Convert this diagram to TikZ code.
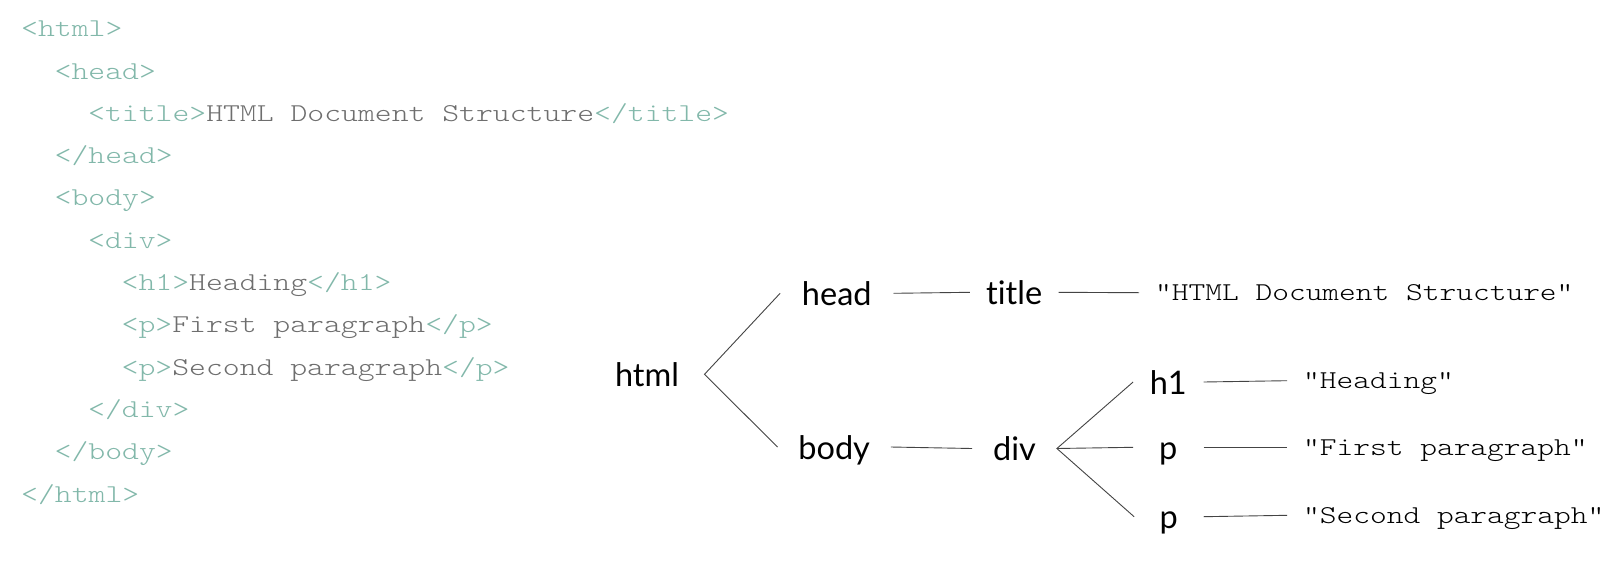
\documentclass[tikz,border=0pt]{standalone}
\usepackage{fontspec}
\newfontfamily\treefont[Ligatures=NoCommon]{Lato}
\newfontfamily\codefont[FakeStretch=1.25]{lmmonolt10-regular.otf}
\newfontfamily\lblfont[FakeStretch=1.24]{lmmonolt10-regular.otf}
\definecolor{tagcol}{HTML}{82B8AA}
\definecolor{codegray}{HTML}{6E6E6E}
\definecolor{linecol}{HTML}{444444}
\definecolor{lbltext}{HTML}{000000}
\newcommand{\tg}[1]{\textcolor{tagcol}{#1}}
\tikzset{
  codeline/.style={anchor=base west, inner sep=0pt, text=codegray,
    font=\codefont\fontsize{25.7}{30}\selectfont},
  treenode/.style={inner xsep=0pt, inner ysep=0pt, text height=29pt, text depth=5pt,
    font=\treefont\fontsize{32.5}{38}\selectfont},
  lbl/.style={anchor=west, inner xsep=16pt, inner ysep=0pt, text height=20pt, text depth=4pt,
    text=lbltext, font=\lblfont\fontsize{25.7}{30}\selectfont},
  conn/.style={draw=linecol, line width=0.9pt}
}
\begin{document}
\begin{tikzpicture}[x=1pt,y=-1pt]
\useasboundingbox[fill=white] (0,0) rectangle (1622,560);
% code listing
\node[codeline] (c1)  at (21.0, 36.7)  {\tg{<html>}};
\node[codeline] (c2)  at (54.5, 79.0)  {\tg{<head>}};
\node[codeline] (c3)  at (88.0, 121.3) {\tg{<title>}HTML Document Structure\tg{</title>}};
\node[codeline] (c4)  at (54.5, 163.6) {\tg{</head>}};
\node[codeline] (c5)  at (54.5, 205.9) {\tg{<body>}};
\node[codeline] (c6)  at (88.0, 248.2) {\tg{<div>}};
\node[codeline] (c7)  at (121.5, 290.5) {\tg{<h1>}Heading\tg{</h1>}};
\node[codeline] (c8)  at (121.5, 332.8) {\tg{<p>}First paragraph\tg{</p>}};
\node[codeline] (c9)  at (121.5, 375.1) {\tg{<p>}Second paragraph\tg{</p>}};
\node[codeline] (c10) at (88.0, 417.4) {\tg{</div>}};
\node[codeline] (c11) at (54.5, 459.7) {\tg{</body>}};
\node[codeline] (c12) at (21.0, 502.0) {\tg{</html>}};
% tree
\node[treenode, minimum width=114.6pt] (html) at (647.0, 374.3) {html};
\node[treenode, minimum width=113pt] (head) at (836.8, 293.3) {head};
\node[treenode, minimum width=113pt] (body) at (834.2, 447.0) {body};
\node[treenode, minimum width=88.3pt] (title) at (1014.2, 292.3) {title};
\node[treenode, minimum width=84.4pt] (div) at (1014.5, 448.5) {div};
\node[treenode, minimum width=70pt] (h1) at (1168.3, 382.0) {h1};
\node[treenode, minimum width=70pt] (p1) at (1168.3, 447.3) {p};
\node[treenode, minimum width=69pt] (p2) at (1168.8, 516.7) {p};
\node[lbl] (t1) at (1139, 292.7) {“HTML Document Structure”};
\node[lbl] (t2) at (1287, 380.7) {“Heading”};
\node[lbl] (t3) at (1287, 447.3) {“First paragraph”};
\node[lbl] (t4) at (1287, 515.3) {“Second paragraph”};
\draw[conn] (head.west) -- (html.east) -- (body.west);
\draw[conn] (head.east) -- (title.west);
\draw[conn] (title.east) -- (t1.west);
\draw[conn] (body.east) -- (div.west);
\draw[conn] (h1.west) -- (div.east) -- (p2.west);
\draw[conn] (div.east) -- (p1.west);
\draw[conn] (h1.east) -- (t2.west);
\draw[conn] (p1.east) -- (t3.west);
\draw[conn] (p2.east) -- (t4.west);
\end{tikzpicture}
\end{document}
